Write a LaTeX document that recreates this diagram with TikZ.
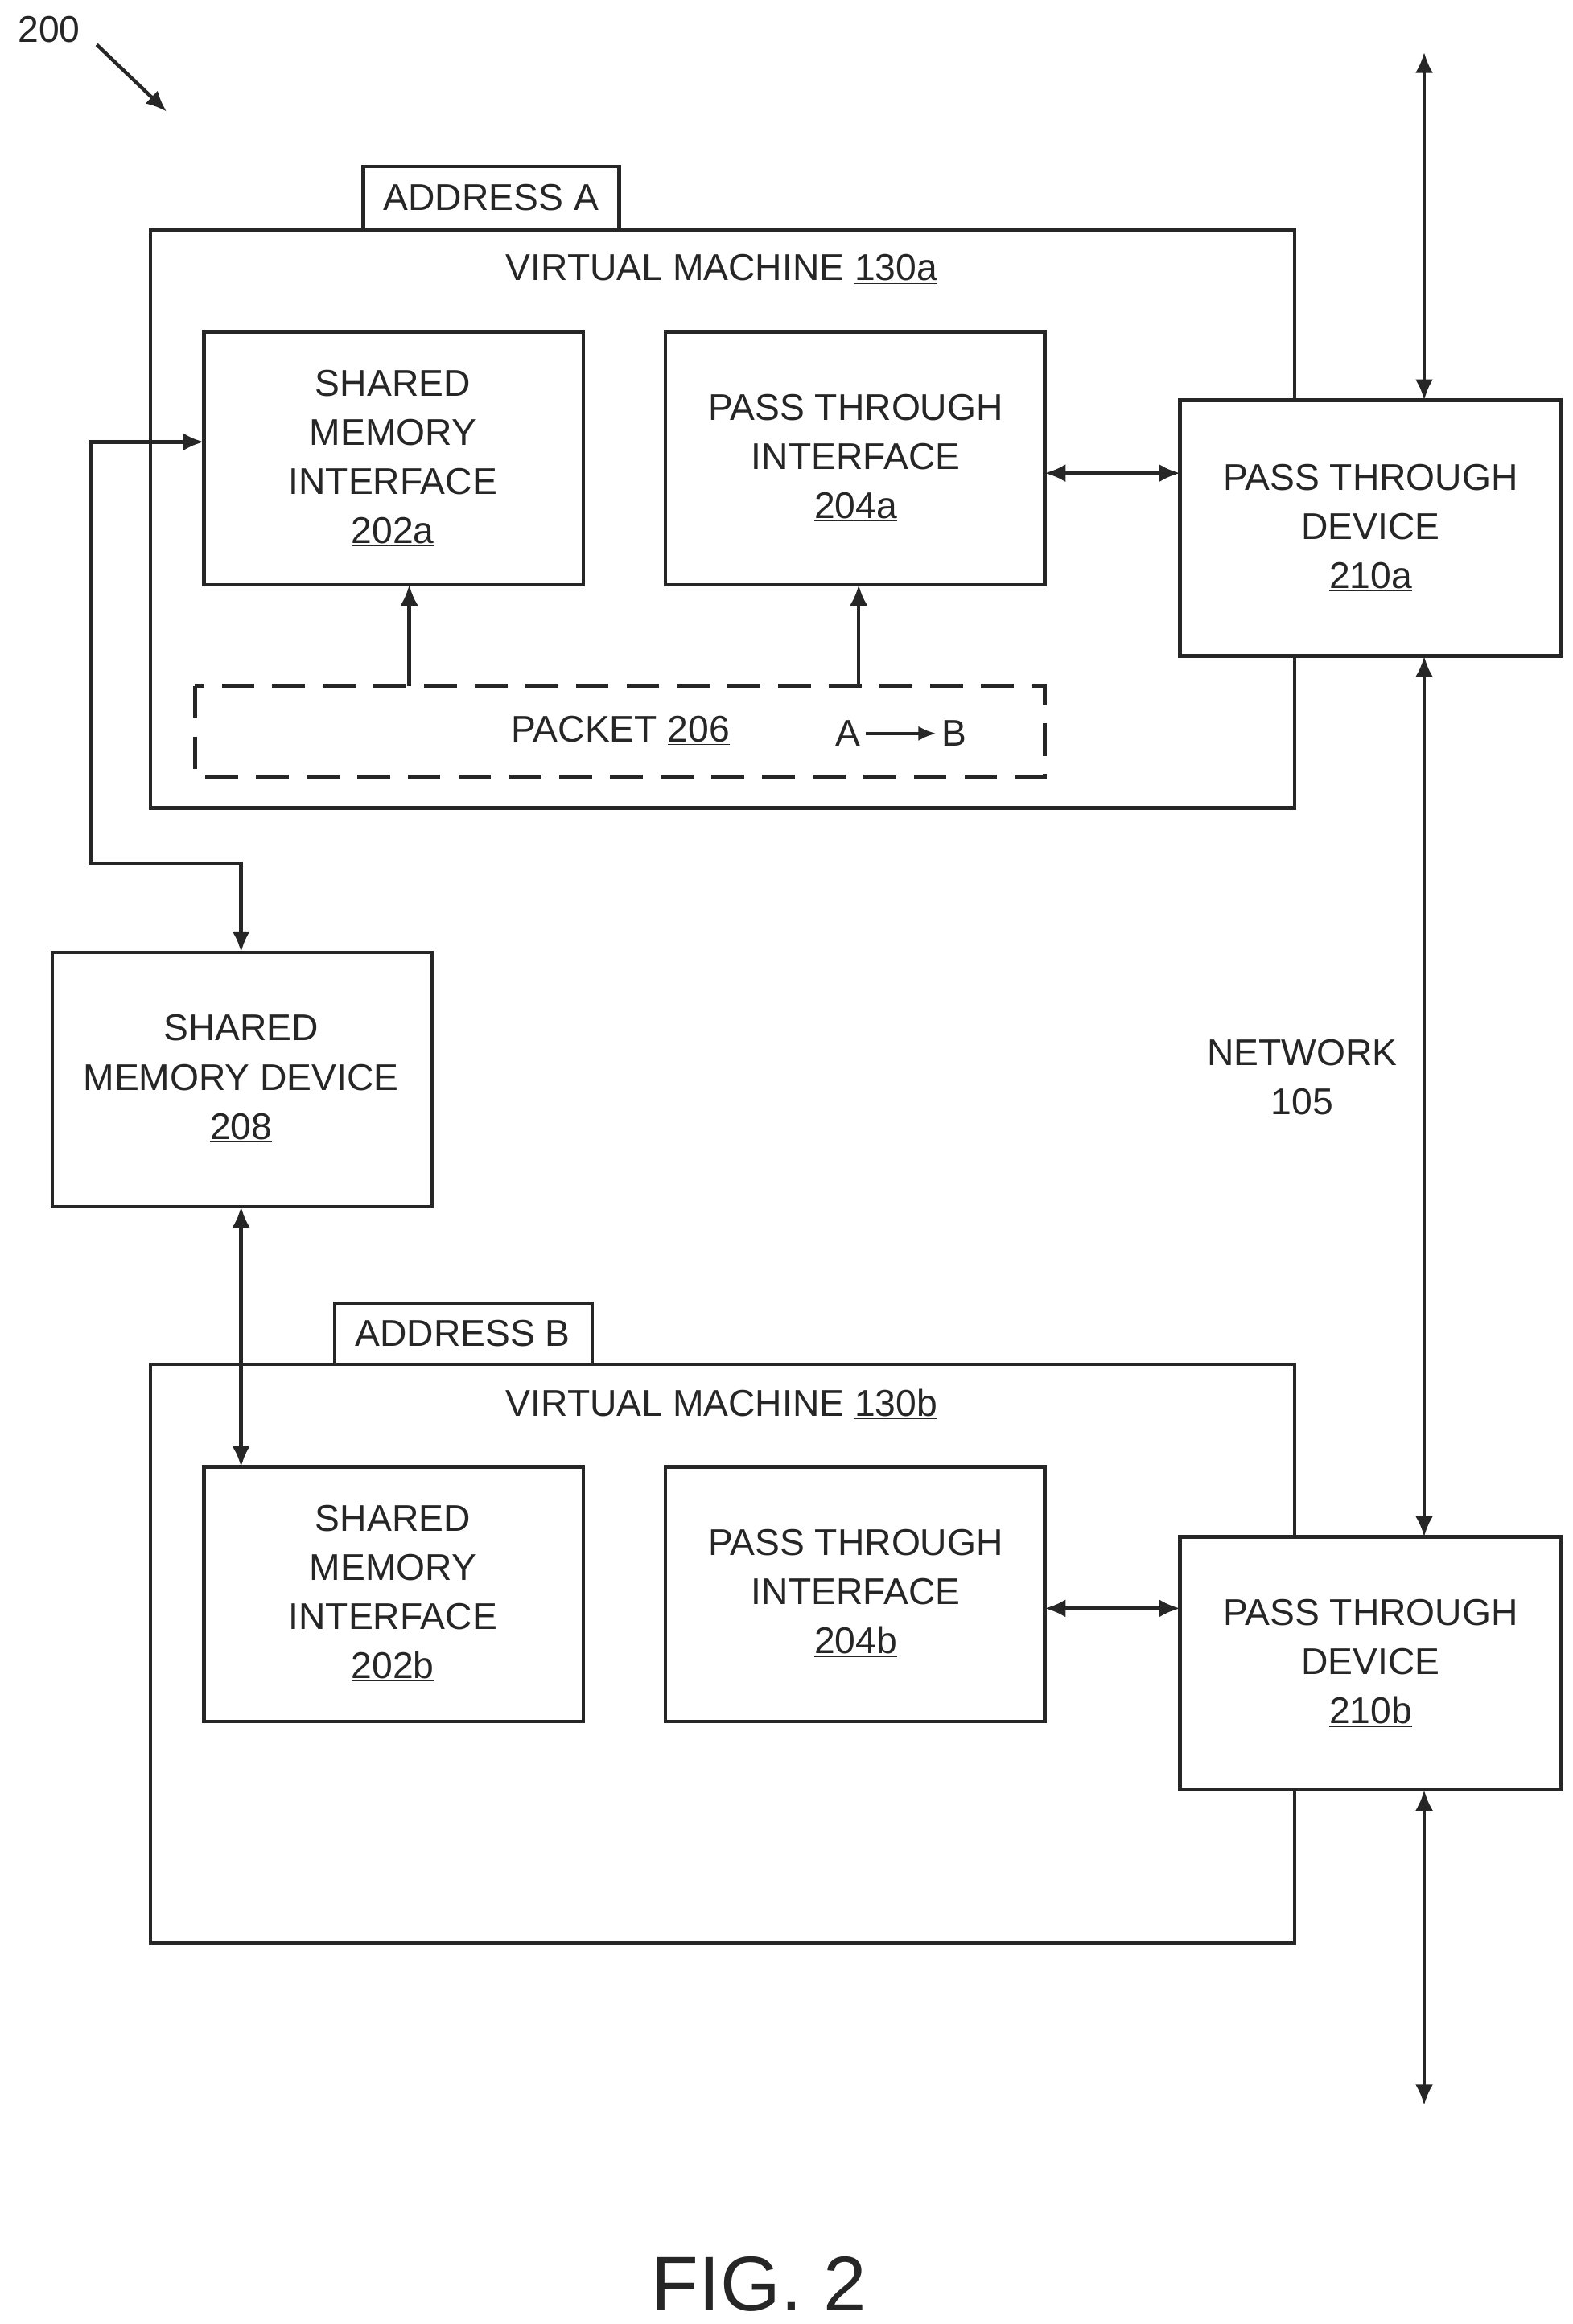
\documentclass[tikz,border=0pt]{standalone}
\usepackage{fontspec}
\setmainfont{Liberation Sans}
\usetikzlibrary{arrows.meta}
\begin{document}
\begin{tikzpicture}[x=1pt,y=-1pt,
  ln/.style={line width=2.4pt,draw=black!85},
  box/.style={ln,fill=white},
  txt/.style={font=\fontsize{25}{33}\selectfont,align=center,text=black!85},
  arr/.style={ln,-{Latex[length=14pt,width=12pt]}},
  darr/.style={ln,{Latex[length=14pt,width=12pt]}-{Latex[length=14pt,width=12pt]}}]
\useasboundingbox (0,0) rectangle (1057,1562);
% figure ref
\node[txt,anchor=center] (n200) at (33,20) {200};
\coordinate (p200) at (112,75);
\draw[arr] (65,30) -- (p200);
% VM a
\draw[box] (244,155) rectangle (416,112);
\node[txt] (addrA) at (330,133) {ADDRESS A};
\draw[box] (101,155) rectangle (870,543);
\node[txt] (vma) at (485,181) {VIRTUAL MACHINE \underline{130a}};
\draw[box] (137,223) rectangle (392,393); \coordinate (smia) at (264,308);
\node[txt] at (264,308) {SHARED\\MEMORY\\INTERFACE\\\underline{202a}};
\draw[box] (447,223) rectangle (702,393);
\node[txt] at (575,308) {PASS THROUGH\\INTERFACE\\\underline{204a}};
\draw[box] (793,269) rectangle (1049,441);
\node[txt] at (921,355) {PASS THROUGH\\DEVICE\\\underline{210a}};
\draw[ln,dashed,dash pattern=on 22pt off 12pt] (131,461) rectangle (702,522);
\node[txt] (pkt) at (417,491) {PACKET \underline{206}};
\node[txt] (pa) at (570,493) {A};
\node[txt] (pb) at (641,493) {B};
\draw[ln,-{Latex[length=12pt,width=10pt]}] (pa.east) -- (pb.west);
% VM b
\draw[box] (225,917) rectangle (398,876);
\node[txt] (addrB) at (311,896) {ADDRESS B};
\draw[box] (101,917) rectangle (870,1306);
\node[txt] (vmb) at (485,944) {VIRTUAL MACHINE \underline{130b}};
\draw[box] (137,986) rectangle (392,1157);
\node[txt] at (264,1071) {SHARED\\MEMORY\\INTERFACE\\\underline{202b}};
\draw[box] (447,986) rectangle (702,1157);
\node[txt] at (575,1071) {PASS THROUGH\\INTERFACE\\\underline{204b}};
\draw[box] (793,1033) rectangle (1049,1203);
\node[txt] at (921,1118) {PASS THROUGH\\DEVICE\\\underline{210b}};
% SMD
\draw[box] (35,640) rectangle (290,811);
\node[txt] (smd) at (162,725) {SHARED\\MEMORY DEVICE\\\underline{208}};
\node[txt] (net) at (875,724) {NETWORK\\105};
% connectors
\draw[ln] (131,461) -- (131,461);
\draw[ln,-{Latex[length=14pt,width=12pt]}] (275,461) -- (275,393);
\draw[ln,-{Latex[length=14pt,width=12pt]}] (577,461) -- (577,393);
\draw[darr] (702,318) -- (793,318);
\draw[darr] (702,1081) -- (793,1081);
\draw[darr] (957,269) -- (957,35);
\draw[darr] (957,441) -- (957,1033);
\draw[darr] (957,1203) -- (957,1415);
\draw[darr] (162,640) -- (162,580) -- (61,580) -- (61,297) -- (137,297);
\draw[darr] (162,811) -- (162,986);
\node[font=\fontsize{52}{60}\selectfont,text=black!85] (fig) at (510,1535) {FIG. 2};
\end{tikzpicture}
\end{document}
